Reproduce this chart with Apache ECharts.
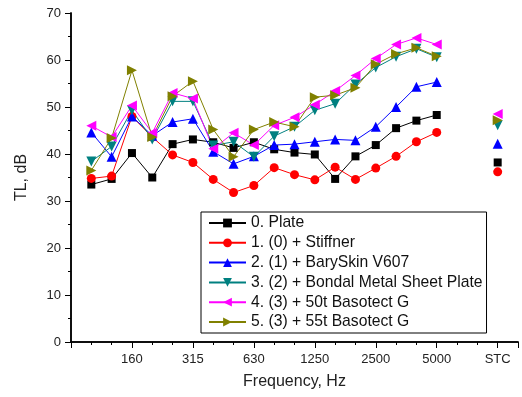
<!DOCTYPE html>
<html>
<head>
<meta charset="utf-8">
<script src="https://cdn.jsdelivr.net/npm/echarts@6/dist/echarts.min.js"></script>
<style>
  html, body { margin: 0; padding: 0; background: #fff; }
  #chart { width: 522px; height: 397px; }
</style>
</head>
<body>
<div id="chart"></div>
<script>
// 1/3 octave bands 100..5000 Hz sit at positions 1..18, STC at 21
const bands = ['100','125','160','200','250','315','400','500','630','800','1000','1250','1600','2000','2500','3150','4000','5000'];
const tickLabels = { 3: '160', 6: '315', 9: '630', 12: '1250', 15: '2500', 18: '5000', 21: 'STC' };
const stcPos = 21;

const names = [
  '0. Plate',
  '1. (0) + Stiffner',
  '2. (1) + BarySkin V607',
  '3. (2) + Bondal Metal Sheet Plate',
  '4. (3) + 50t Basotect G',
  '5. (3) + 55t Basotect G'
];

const plate    = [33.5, 34.7, 40.2, 35.0, 42.1, 43.1, 42.5, 41.3, 42.5, 41.0, 40.3, 39.9, 34.7, 39.5, 41.9, 45.5, 47.1, 48.3];
const stiff    = [34.8, 35.3, 48.0, 43.6, 39.8, 38.2, 34.6, 31.8, 33.3, 37.1, 35.6, 34.5, 37.2, 34.6, 37.0, 39.5, 42.6, 44.6];
const bary     = [44.6, 39.4, 48.0, 43.9, 46.8, 47.5, 40.5, 37.9, 39.5, 41.9, 42.1, 42.6, 43.1, 42.9, 45.8, 50.0, 54.3, 55.3];
const bondal   = [38.4, 41.6, 49.3, 43.1, 51.2, 51.2, 41.8, 42.6, 39.4, 43.8, 45.8, 49.3, 50.7, 54.8, 58.4, 60.7, 62.4, 60.6];
const baso50   = [46.0, 43.6, 50.3, 44.5, 53.0, 51.8, 41.1, 44.5, 41.9, 46.1, 47.8, 50.5, 53.4, 56.7, 60.3, 63.3, 64.7, 63.3];
const baso55   = [36.5, 43.4, 57.8, 43.6, 52.3, 55.5, 45.2, 39.4, 45.2, 46.8, 45.8, 52.1, 52.5, 54.1, 59.1, 61.3, 62.6, 60.8];
const stc      = [38.2, 36.2, 42.2, 46.1, 48.5, 47.2];

const colors  = ['#000000', '#ff0000', '#0000ff', '#008080', '#ff00ff', '#808000'];
const symbols = ['rect', 'circle', 'triangle', 'triangle', 'triangle', 'triangle'];
const rotates = [0, 0, 0, 180, 90, -90];
const sizes   = [8, 9, 10, 10, 10, 10];
const allVals = [plate, stiff, bary, bondal, baso50, baso55];

const font = 'Arial, "Liberation Sans", sans-serif';

const series = allVals.map((vals, k) => ({
  name: names[k],
  type: 'line',
  data: vals.map((v, i) => [i + 1, v]).concat([[20, '-'], [stcPos, stc[k]]]),
  connectNulls: false,
  color: colors[k],
  symbol: symbols[k],
  symbolRotate: rotates[k],
  symbolSize: sizes[k],
  showAllSymbol: true,
  lineStyle: { width: 1, color: colors[k] },
  itemStyle: { color: colors[k] },
  emphasis: { disabled: true }
}));

const chart = echarts.init(document.getElementById('chart'));
chart.setOption({
  animation: false,
  grid: { left: 71, right: 4, top: 13, bottom: 55 },
  legend: {
    orient: 'vertical',
    left: 201,
    top: 212,
    itemWidth: 37,
    itemHeight: 11,
    itemGap: 3.8,
    padding: [3, 4, 3, 7],
    borderColor: '#000',
    borderWidth: 1,
    backgroundColor: '#fff',
    textStyle: { fontFamily: font, fontSize: 15.7, color: '#111' },
    data: names
  },
  xAxis: [{
    type: 'value',
    min: 0, max: 22, interval: 3,
    name: 'Frequency, Hz',
    nameLocation: 'middle',
    nameGap: 32,
    nameTextStyle: { fontFamily: font, fontSize: 16, color: '#222' },
    axisLine: { lineStyle: { color: '#000', width: 1.5 } },
    axisTick: { length: 6, lineStyle: { color: '#000' } },
    minorTick: { show: true, splitNumber: 3, length: 3, lineStyle: { color: '#000' } },
    splitLine: { show: false },
    axisLabel: {
      fontFamily: font, fontSize: 13, color: '#222', margin: 11,
      formatter: v => tickLabels[v] || ''
    }
  }, {
    type: 'value',
    position: 'top',
    min: 0, max: 22, interval: 3,
    axisLine: { lineStyle: { color: '#000', width: 1.5 } },
    axisTick: { inside: true, length: 6, lineStyle: { color: '#000' } },
    minorTick: { show: true, splitNumber: 3, length: 3, lineStyle: { color: '#000' } },
    splitLine: { show: false },
    axisLabel: { show: false }
  }],
  yAxis: [{
    type: 'value',
    min: 0, max: 70, interval: 10,
    name: 'TL, dB',
    nameLocation: 'middle',
    nameGap: 41,
    nameTextStyle: { fontFamily: font, fontSize: 16, color: '#222' },
    axisLine: { show: true, lineStyle: { color: '#000', width: 1.5 } },
    axisTick: { show: true, length: 6, lineStyle: { color: '#000' } },
    minorTick: { show: true, splitNumber: 2, length: 3, lineStyle: { color: '#000' } },
    splitLine: { show: false },
    axisLabel: { fontFamily: font, fontSize: 13, color: '#222', margin: 10 }
  }, {
    type: 'value',
    position: 'right',
    min: 0, max: 70, interval: 10,
    axisLine: { show: true, lineStyle: { color: '#000', width: 1.5 } },
    axisTick: { show: true, inside: true, length: 6, lineStyle: { color: '#000' } },
    minorTick: { show: true, splitNumber: 2, length: 3, lineStyle: { color: '#000' } },
    splitLine: { show: false },
    axisLabel: { show: false }
  }],
  series: series
});
</script>
</body>
</html>
